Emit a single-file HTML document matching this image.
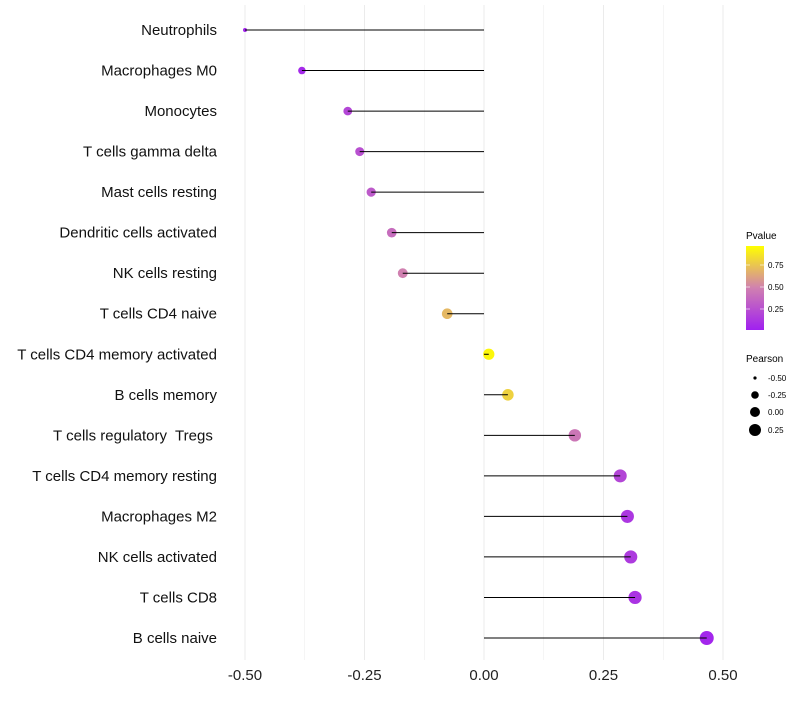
<!DOCTYPE html>
<html><head><meta charset="utf-8"><style>
body{margin:0;background:#fff;font-family:"Liberation Sans",sans-serif}
svg text{font-family:"Liberation Sans",sans-serif;white-space:pre}
</style></head><body>
<svg id="chart" width="800" height="700">
<defs><linearGradient id="pg" x1="0" y1="1" x2="0" y2="0">
<stop offset="0" stop-color="#a020f0"/><stop offset="0.5" stop-color="#d080b0"/><stop offset="1" stop-color="#ffff00"/>
</linearGradient></defs>
<g id="grid"></g><g id="dots"></g><g id="marks"></g><g id="labels"></g>
<g>
<text x="746" y="239" font-size="10">Pvalue</text>
<rect x="746" y="246" width="18" height="84" fill="url(#pg)"/>
<line x1="746" x2="750" y1="265" y2="265" stroke="#fff" opacity="0.6"/><line x1="760" x2="764" y1="265" y2="265" stroke="#fff" opacity="0.6"/>
<line x1="746" x2="750" y1="287" y2="287" stroke="#fff" opacity="0.6"/><line x1="760" x2="764" y1="287" y2="287" stroke="#fff" opacity="0.6"/>
<line x1="746" x2="750" y1="309" y2="309" stroke="#fff" opacity="0.6"/><line x1="760" x2="764" y1="309" y2="309" stroke="#fff" opacity="0.6"/>
<text x="768" y="268" font-size="8">0.75</text><text x="768" y="290" font-size="8">0.50</text><text x="768" y="312" font-size="8">0.25</text>
</g>
<g>
<text x="746" y="362" font-size="10">Pearson</text>
<circle cx="755" cy="378" r="1.6"/><text x="768" y="381" font-size="8">-0.50</text>
<circle cx="755" cy="395" r="3.8"/><text x="768" y="398" font-size="8">-0.25</text>
<circle cx="755" cy="412" r="5"/><text x="768" y="415" font-size="8">0.00</text>
<circle cx="755" cy="430" r="6"/><text x="768" y="433" font-size="8">0.25</text>
</g>
</svg>
<script>
const categories=["Neutrophils","Macrophages M0","Monocytes","T cells gamma delta","Mast cells resting","Dendritic cells activated","NK cells resting","T cells CD4 naive","T cells CD4 memory activated","B cells memory","T cells regulatory  Tregs ","T cells CD4 memory resting","Macrophages M2","NK cells activated","T cells CD8","B cells naive"];
const pearson=[-0.50,-0.381,-0.285,-0.26,-0.236,-0.193,-0.17,-0.077,0.01,0.05,0.19,0.285,0.30,0.307,0.316,0.466];
const pvalues=[0.02,0.05,0.2,0.25,0.3,0.4,0.5,0.72,0.97,0.82,0.45,0.2,0.12,0.14,0.1,0.03];
const ticks=[-0.5,-0.25,0,0.25,0.5];
const tickLabels=["-0.50","-0.25","0.00","0.25","0.50"];
const NS="http://www.w3.org/2000/svg";
const x=v=>484+v*478;
const y=i=>30+i*(608/(categories.length-1));
function col(p){
 const a=[160,32,240],m=[208,128,176],b=[255,255,0];
 let c;if(p<0.5){const t=p/0.5;c=a.map((v,k)=>v+(m[k]-v)*t);}else{const t=(p-0.5)/0.5;c=m.map((v,k)=>v+(b[k]-v)*t);}
 return `rgb(${c.map(Math.round).join(',')})`;}
const r=v=>2+5*Math.sqrt(Math.max(0,(v+0.5)/0.966));
function mk(t,at,p){const e=document.createElementNS(NS,t);for(const k in at)e.setAttribute(k,at[k]);p.appendChild(e);return e;}
const grid=document.getElementById('grid'),marks=document.getElementById('marks'),labels=document.getElementById('labels'),dots=document.getElementById('dots');
for(let v=-0.5;v<=0.5001;v+=0.125){const g=mk('line',{x1:x(v),x2:x(v),y1:5,y2:660,stroke:'#ebebeb','stroke-width':Math.abs(v*4%1)<1e-6?1:0.5},grid);

}
ticks.forEach((v,i)=>{const t=mk('text',{x:x(v),y:680,'font-size':15,'text-anchor':'middle',fill:'#222'},labels);t.textContent=tickLabels[i];

});
categories.forEach((c,i)=>{
 const t=mk('text',{x:217,y:y(i)+5,'font-size':15,'text-anchor':'end',fill:'#111'},labels);t.textContent=c;
 
 
 const d=mk('circle',{cx:x(pearson[i]),cy:y(i),r:r(pearson[i]),fill:col(pvalues[i])},dots);
 
 
 const l=mk('line',{x1:x(0),x2:x(pearson[i]),y1:y(i),y2:y(i),stroke:'#000','stroke-width':1},marks);
 
 
});
</script>
</body></html>
